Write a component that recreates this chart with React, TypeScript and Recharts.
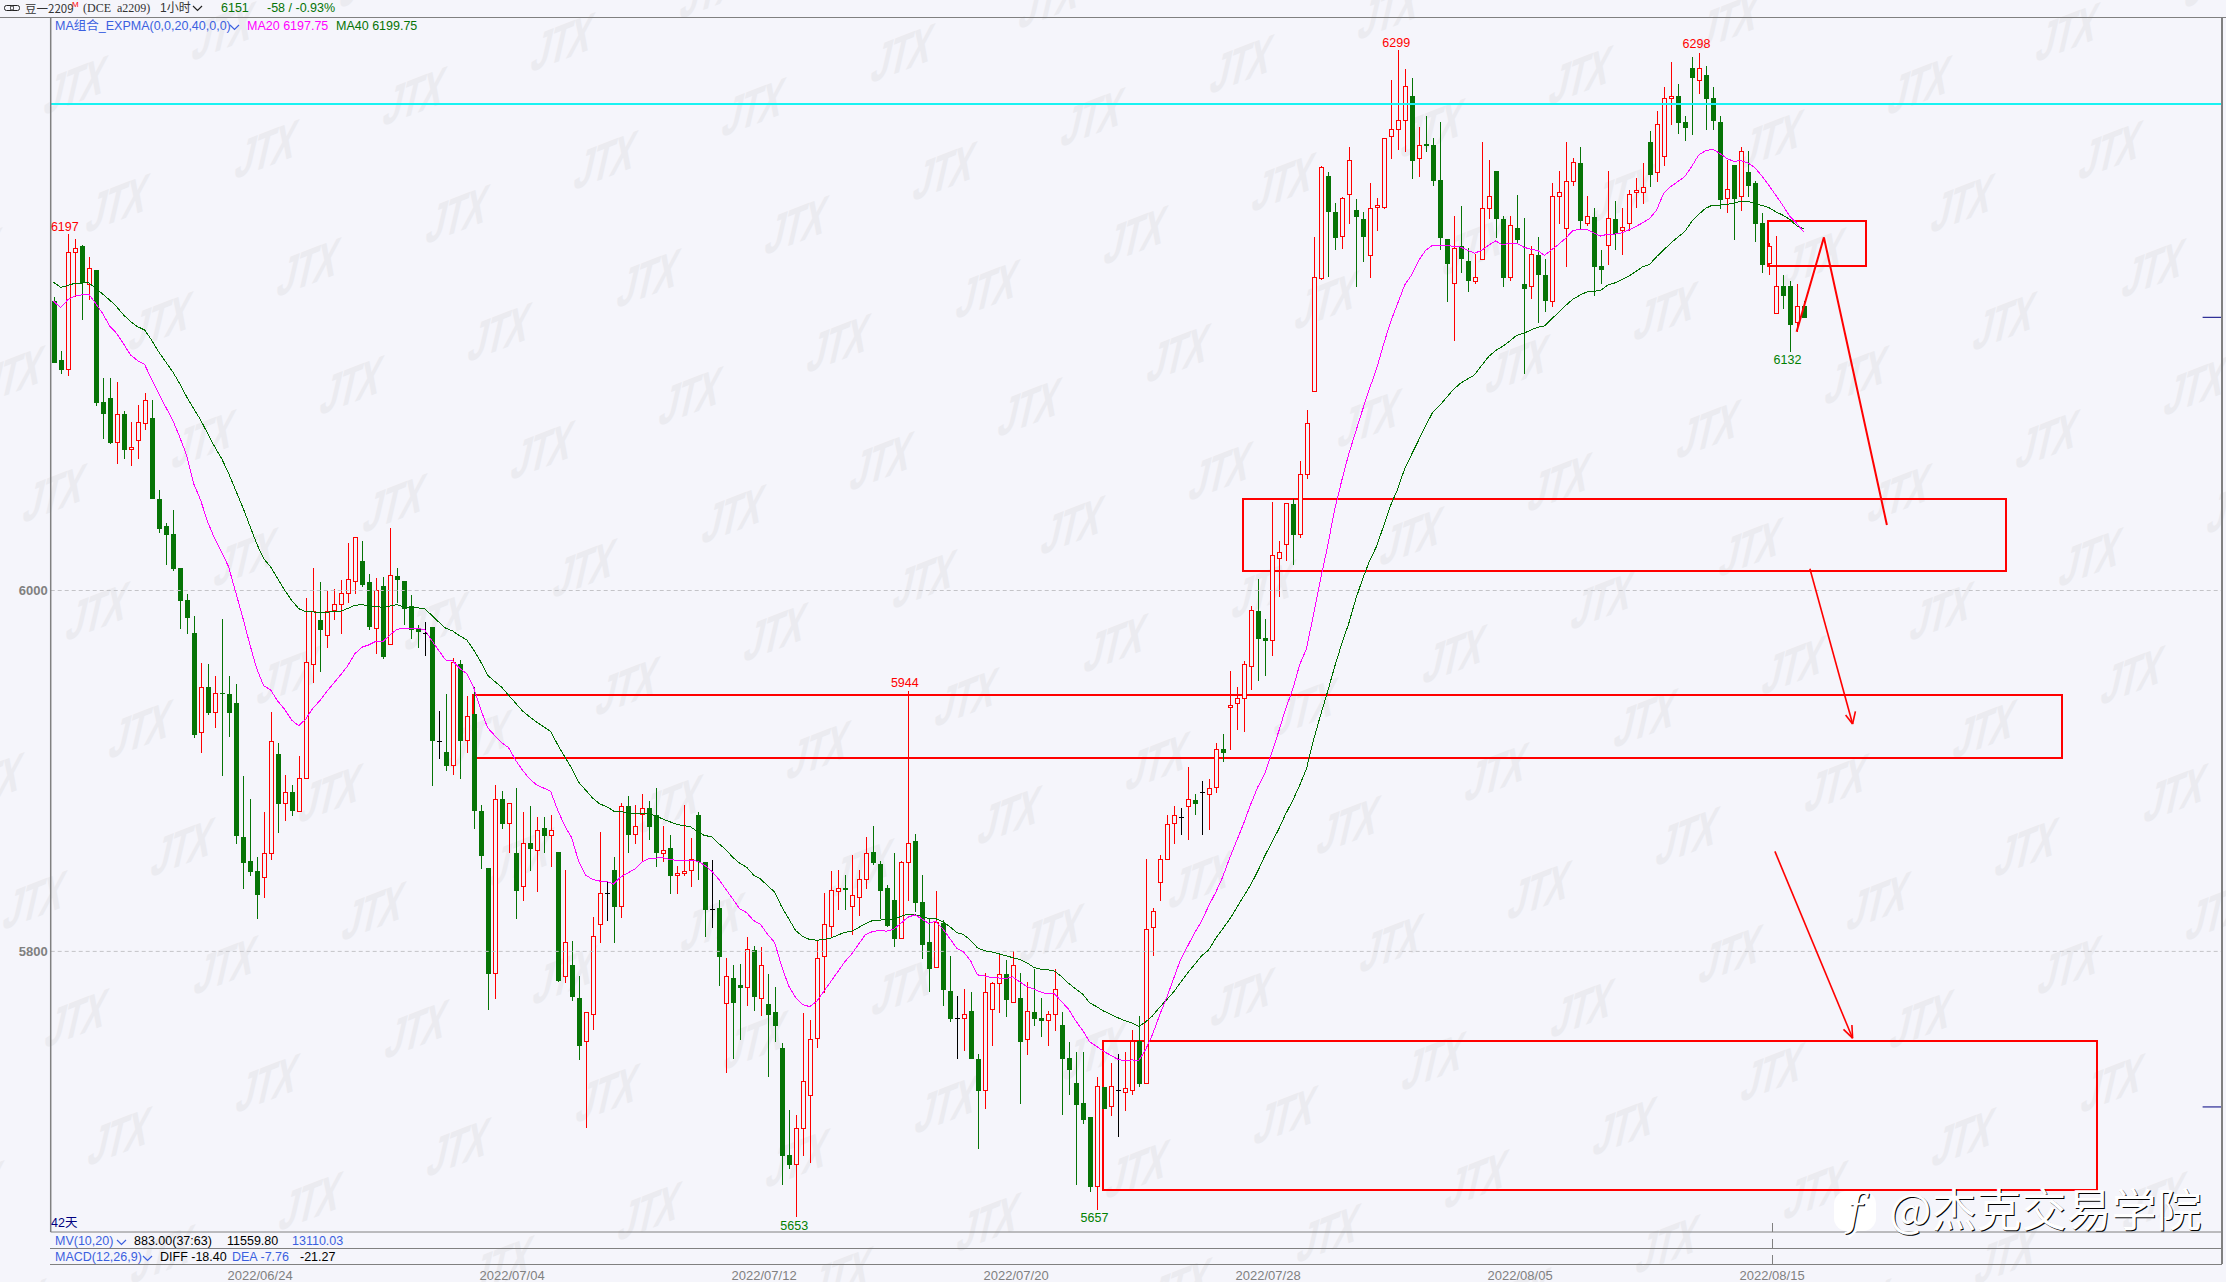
import React from "react";
import { ComposedChart, Bar, Line, XAxis, YAxis, ReferenceLine, ReferenceArea, ReferenceDot } from "recharts";

const opens = [
6160.4,6127.7,6122.4,6187.2,6190.9,6169.7,6177.6,6104.4,6106.7,6081.9,
6097.8,6078,6083,6092.4,6095.6,6050.6,6035.9,6031.2,6012.4,5994.6,
5976.3,5921.2,5946.5,5932.3,5943,5942.6,5937.7,5863.4,5850,5844.6,
5841,5854.4,5909.4,5881.9,5888.3,5877.8,5896,5959,5983.9,5975,
5988.7,5992.2,5998.3,6004.8,6016.3,6004.6,5978.7,6002.4,5969.9,6008.3,
6005.2,5991.3,5978.4,5976,5980,5916.4,5910.5,5903,5959.3,5916.8,
5931.5,5878,5846.2,5787.8,5884.2,5870.8,5854.4,5836,5859.9,5856,
5868.4,5864.4,5855,5786,5792.3,5774.2,5750,5765,5814.9,5832.2,
5845.2,5824.8,5880.7,5864.7,5875.8,5879.6,5875.6,5854.1,5857.2,5841.9,
5843.2,5844.9,5875.6,5849.6,5823.2,5824.1,5771.1,5785.3,5781.4,5779.9,
5801,5773.7,5771.1,5766.3,5746.6,5687.2,5681.7,5701.9,5720,5751.8,
5797.2,5813.8,5833.1,5834.9,5824.8,5829.8,5839.7,5855,5848.4,5834.9,
5828.7,5807,5849.3,5861.2,5827.3,5805.2,5791,5815.6,5778.1,5763,
5762.8,5766.9,5740.3,5722.7,5767.7,5782.1,5787.4,5771.5,5774.1,5751.2,
5766.4,5763,5761.6,5765,5759.2,5741,5727,5716,5708.1,5669.7,
5725.1,5713.8,5722.7,5721.7,5722.7,5750.3,5726.8,5813.3,5838.3,5851,
5871,5874.2,5880.3,5884.1,5888.2,5887.1,5890.7,5911.9,5935.2,5937.4,
5940.1,5957.7,5988.5,5973.6,5972.4,6017.5,6025.6,6048.2,6031,6064.5,
6110.4,6173,6229.6,6209.5,6196.1,6219.4,6210.6,6205.9,6185.5,6212.2,
6212,6251.6,6255.4,6260.6,6274,6239.3,6247.7,6246.8,6227.6,6194.8,
6170.1,6190.7,6182.6,6171.3,6183.5,6211.8,6232.3,6205.9,6173.5,6200.7,
6170.1,6168.5,6186.2,6175.1,6160.2,6218.3,6200.4,6226.9,6236.9,6203.6,
6207.2,6179.6,6191.2,6205.6,6199.5,6203.4,6220.6,6220.6,6248.5,6231.5,
6240.4,6272.5,6274,6259.4,6289.5,6282.7,6285.7,6272.9,6259.6,6217.1,
6235.8,6218.2,6231.9,6225.8,6203.6,6181.1,6153.4,6168.7,6168.7,6148.4,
6157.7];
const highs = [
6162.5,6132.7,6197.6,6194.8,6191.5,6184.9,6177.6,6117.7,6117.7,6115.5,
6099.4,6093.3,6102.8,6109.4,6105.5,6055.6,6037.2,6044.5,6012.4,5998.3,
5986,5960,5959,5952.5,5984,5952.5,5948,5897,5884.5,5852.3,
5877.3,5932.7,5915.5,5898,5892,5908.3,5996,6012.4,6004.8,5999.6,
6001,6006,6026.4,6029.4,6027.4,6009.4,6007.2,6007.6,6034.4,6012.2,
6005.2,5997.4,5981,5982.3,5980,5933.2,5942.7,5962.4,5961.5,5941.6,
5946.4,5881,5846.2,5892,5889,5882,5890.3,5877,5880.7,5874.5,
5874.7,5875.6,5855,5845,5806,5786.4,5766.3,5818.9,5866,5838.4,
5852.2,5882.2,5886.1,5881,5887.2,5883.3,5890.5,5869.7,5864.4,5847.4,
5881,5863.1,5877,5849.6,5850.4,5828.7,5796.3,5792.3,5793,5807.9,
5802.9,5802.4,5787.5,5780.3,5749.2,5712,5709.3,5765.6,5761.9,5805.7,
5832.4,5844.5,5845,5842.3,5853.3,5845,5863.6,5869.5,5850,5836.8,
5854.4,5850,5944.2,5864.8,5842.1,5817.8,5833.2,5817.3,5797.4,5775.3,
5779.2,5777.5,5743,5788.1,5782.8,5798.2,5795.5,5800.2,5788.1,5782.8,
5790.2,5774.3,5766.9,5790.2,5766.4,5749.9,5744,5744,5708.1,5730.4,
5725.1,5738.2,5743,5744.2,5756.3,5764.1,5851,5824.1,5853.2,5875.6,
5880.5,5879.7,5902.2,5887.1,5894.5,5895.6,5915.5,5920.4,5955.2,5946.5,
5960.9,5991.2,6006.4,5984.2,6049.3,6027.4,6048.2,6050.5,6071.7,6100.2,
6195.9,6235.5,6231.9,6214.5,6218.3,6245.5,6216.7,6210,6225.6,6217.4,
6250.4,6283,6299.3,6288.9,6283.9,6256.8,6262.9,6250.7,6259.7,6194.8,
6207.5,6213.3,6189.6,6186.6,6248.6,6238.4,6232.3,6207.5,6207.5,6219.4,
6206.3,6190.7,6195.9,6183.7,6225.6,6232.6,6248.6,6239.6,6245.7,6218.5,
6212,6188.7,6232.6,6215.8,6212,6222.2,6228.5,6236.9,6254.6,6265.7,
6279.2,6292.9,6280.7,6262.9,6295.5,6298,6290.6,6279,6262.9,6238.6,
6235.8,6245.6,6243.5,6227.1,6209,6192.4,6196.4,6174.8,6171.5,6169.8,
6160.6];
const lows = [
6126.2,6120,6119,6162.8,6149.9,6161,6102.4,6083.9,6081.3,6070,
6072.8,6068.9,6072.8,6088.9,6050.6,6031.6,6014,6010.9,5978.7,5975.8,
5918,5910,5931,5924,5897,5918.8,5859.7,5834.8,5842,5818,
5829.8,5850.8,5865.8,5872,5875,5877,5896,5948.8,5954.9,5968.2,
5983.5,5975.8,5992.8,5998,6002,5978,5964.7,5962,5969.9,5992.8,
5980.8,5973,5968,5963.6,5891.9,5906.4,5900,5897.7,5895.8,5910.2,
5868,5845.6,5767.8,5773.7,5868,5854.8,5818.2,5828,5844.5,5832.9,
5854.4,5846.7,5783,5782.7,5772.4,5740,5701.9,5756.6,5804.6,5816.9,
5804.6,5818.4,5854.4,5859.4,5849.6,5861.8,5846.7,5849.6,5831.8,5831.8,
5841.9,5835.7,5839.5,5807.9,5813,5780.7,5732.5,5740.4,5751,5769.8,
5766.7,5764,5730.5,5749.8,5670.7,5679.5,5652.8,5686.7,5683,5746.6,
5777.2,5807.3,5823,5823,5809,5819.7,5834.6,5847.8,5818.2,5813.4,
5802.4,5807,5828,5821.6,5795.9,5777.5,5791,5770,5761.1,5740.3,
5744.8,5740.3,5690.5,5712.8,5747.8,5765.8,5763.7,5771.5,5715.5,5742.5,
5758.8,5752.4,5747.8,5755.8,5709.6,5720.6,5670.8,5704.3,5666.8,5656.6,
5712.6,5709,5696.9,5711.7,5720.2,5724.9,5726.8,5797.6,5827.9,5851,
5859.5,5864.4,5861.7,5875.6,5864.4,5867,5887.7,5905.1,5911.7,5922.7,
5921.7,5945,5949.9,5952.8,5963.9,5996.2,6016.1,6014.3,6029.2,6061.8,
6110.4,6172.2,6173.5,6188.5,6189.1,6203.2,6168.1,6182.1,6173.3,6199.3,
6211.5,6239.1,6244.3,6243,6228,6229.2,6243.2,6224.4,6188.5,6160,
6138.2,6176,6165.2,6169.9,6183.5,6205.9,6195.2,6168.1,6171.3,6192.5,
6119.9,6161.3,6148.2,6154.5,6157.2,6203.2,6179.4,6224.4,6200.4,6202,
6163.1,6169.9,6180.3,6188.9,6186,6199.5,6212,6214.2,6223.8,6226.5,
6235.2,6258,6253,6249.1,6252.4,6275.1,6255.2,6255.2,6211.4,6209.4,
6194.2,6210.3,6218.2,6193.3,6176.1,6174.8,6153.4,6155.8,6132.3,6143.4,
6151];
const closes = [
6126.2,6122.2,6187.4,6189.6,6170.2,6178.6,6103.9,6098,6081.7,6097.6,
6078,6079.3,6093.2,6105.4,6050.6,6034.2,6030.9,6011.8,5994.3,5984.8,
5920,5946.3,5932,5943,5942.5,5932.3,5864.1,5849,5844,5831,
5854.4,5916.4,5881.9,5888,5877.8,5896,5960.2,5988.4,5978.2,5988.4,
5992.2,5998.3,6006,6029.4,6003,5979.7,6000,5963,6008.3,6005.7,
5989.8,5978,5976.9,5976,5916.8,5916.4,5903,5960.2,5916.8,5930.2,
5878,5852.8,5787.5,5884.2,5870.6,5882,5833.5,5859.9,5856.8,5867,
5864.2,5867,5783.8,5805,5775,5747.6,5766.3,5808.3,5832.2,5832.2,
5824.8,5880.4,5864.4,5869.3,5879.3,5868.8,5854.6,5855.9,5841.9,5843.2,
5844.3,5851,5849.6,5823,5823.2,5797,5786.2,5771.5,5779.6,5801,
5775,5792.1,5765,5758.6,5686.7,5681.7,5701.9,5727.9,5751.1,5796.1,
5814.9,5833.8,5834.9,5833.8,5831.1,5839.9,5854.4,5849.1,5833.5,5813.8,
5807,5849.3,5859.9,5827,5803.8,5790,5816,5778.7,5762.6,5763,
5765.2,5740.3,5722.7,5777.2,5782.3,5787,5772.8,5792.3,5749.9,5766.9,
5762.6,5761.6,5765.2,5779,5740.3,5734,5714.9,5706.6,5669.7,5725.1,
5712.6,5725.1,5722.7,5724,5750.3,5726.6,5812.2,5822.2,5851,5870.4,
5875.4,5874.2,5884.1,5881.8,5888.2,5890.3,5911.9,5910,5936.3,5940.3,
5959,5989,5973.3,5972.2,6019.3,6021.1,6048.2,6031,6064.5,6092.6,
6173.5,6234.4,6209.5,6195.2,6217.4,6238.4,6207,6196.1,6211.8,6213.3,
6250.4,6255.4,6260.6,6279.4,6238.2,6246.6,6246.6,6227.1,6195.3,6181.2,
6189.8,6183.5,6171.3,6173.5,6211.8,6218.3,6206.1,6173.3,6202.3,6194.1,
6167.2,6186.2,6175.1,6160.2,6218.3,6220.6,6226.7,6237.3,6204.5,6207.2,
6179.4,6177.4,6205.9,6197.5,6201.1,6219.4,6221.7,6223.3,6230.2,6258.3,
6272.7,6273.8,6259.2,6256.5,6284,6289.4,6272.4,6260.4,6216.6,6222.3,
6216.9,6243.5,6224.3,6203.3,6180.4,6190.9,6168.5,6163.4,6147.3,6157.5,
6151];
const ma20 = [
6160.4,6156.7,6161,6163.2,6163.8,6164.3,6159.1,6153.6,6146.6,6142.5,
6136.6,6130.5,6127.4,6125.3,6117,6109.2,6101.8,6094.5,6085.2,6075,
6059.3,6050.1,6038.1,6028.8,6021.4,6013.1,5999.3,5985.4,5970.6,5956.9,
5947.3,5944.9,5938.8,5934.2,5928.2,5925.1,5928.6,5934.5,5938.8,5943.9,
5948.6,5953.2,5958.2,5964.8,5968.5,5969.8,5971.8,5971.5,5975.2,5978.4,
5979.1,5979.1,5978.9,5978.4,5972.4,5966.9,5961.5,5961,5956.9,5954,
5946.4,5934.3,5924,5919.7,5915.7,5912.9,5905.9,5900.4,5895.6,5892.3,
5890.5,5888.8,5878.4,5869.7,5863.1,5850,5842.3,5839.9,5839,5838.8,
5837.3,5841.2,5843.4,5845.6,5849.3,5851.5,5851.7,5851.9,5851,5850.4,
5850.4,5850.4,5850,5847.8,5844.5,5840.1,5834.6,5829.2,5823.7,5821.5,
5817.1,5814.9,5809.4,5805,5791.9,5780.9,5774.4,5770.5,5769.4,5772.2,
5777.7,5783.1,5788.6,5794.1,5798.5,5804,5809.4,5811,5811.6,5811.2,
5812.3,5815.4,5818.9,5820.2,5818.2,5815.4,5816.7,5812.7,5807.3,5801.8,
5799.7,5794.8,5787,5786.4,5785.5,5785.3,5784.9,5785.9,5783.2,5780.6,
5779.2,5777.5,5776.4,5776.4,5772.2,5767.9,5761.6,5756.3,5749.9,5747.4,
5744.6,5742.5,5740.3,5739.3,5739.9,5739.3,5745.6,5754.1,5764.7,5774.3,
5784.9,5795.5,5802.9,5810.3,5816.7,5825.2,5832.6,5841.1,5851.7,5861.2,
5870.8,5881.4,5890.9,5898.3,5910,5921.7,5934.4,5945,5958.8,5968,
5987.1,6006.4,6024.5,6044.8,6060.6,6075.4,6087.8,6100.2,6112,6122.9,
6136.4,6148.9,6159,6169.2,6174.9,6182.8,6188.5,6191.4,6191.4,6191.2,
6190.7,6190.3,6188.5,6186.9,6188.5,6191.4,6193.7,6191.6,6192.5,6192.5,
6190.3,6189.1,6188.5,6185.7,6188.9,6191.8,6195.2,6199.3,6200.2,6200.2,
6198.2,6196.4,6197.5,6197.5,6198.2,6199.8,6201.6,6203.8,6206.2,6210.8,
6220.1,6223.8,6226.5,6229.3,6234.9,6241.3,6243.7,6244.6,6242.3,6239.5,
6237.8,6238.2,6237.1,6234.5,6229.9,6224.7,6219.2,6213.6,6207.5,6203.5,
6198.8];
const ma40 = [
6170.8,6168,6169,6170.2,6170.4,6170.6,6167.5,6164.3,6161,6157.3,
6152.7,6149,6146.2,6144.4,6138.8,6132.3,6126.8,6121.3,6114.8,6107.4,
6100.9,6094.5,6087.1,6079.7,6073.2,6064.9,6055.6,6046.4,6036.2,6026.1,
6017.7,6013.1,6006.7,6000.2,5994.6,5990,5988.2,5988.2,5987.6,5988,
5988.2,5988.5,5990,5991.7,5992.2,5991.5,5991.3,5990.6,5991.3,5992.2,
5990.9,5990.4,5990.4,5990,5986.3,5982.6,5979.1,5977.6,5974.9,5972.7,
5967.2,5960.6,5953,5949.7,5946.4,5942,5937.6,5933.2,5930,5927.1,
5924.5,5921.9,5914.6,5908,5901.5,5893.8,5889.4,5885,5881.8,5880.2,
5877.8,5877.6,5876.7,5876.3,5876.3,5876.3,5875.2,5873.4,5871.9,5870.4,
5869.7,5869,5866.4,5864.2,5863.6,5859.8,5856.6,5852.2,5848.9,5846.7,
5842.3,5840.1,5836.4,5832.9,5824.8,5818.2,5811.6,5808.3,5806.6,5806.2,
5806.6,5807.3,5809,5810.5,5811.2,5813.2,5815.4,5817.1,5817.3,5817.8,
5817.8,5819.3,5820.6,5820.4,5819.3,5818.2,5818.2,5816.4,5813.8,5810.5,
5809.3,5806.1,5801.9,5800.4,5799.7,5798.7,5797.6,5796.6,5795.5,5793.8,
5791.2,5790.2,5789.8,5789.1,5786,5782.3,5779.2,5776.4,5771.5,5769.4,
5766.9,5765.2,5763.3,5761.6,5760.5,5758.4,5760.9,5764.3,5769,5773.2,
5777.5,5782.8,5788.1,5792.7,5797.6,5800.8,5807.1,5812.4,5817.8,5824.1,
5830.5,5836.8,5844.3,5852.7,5860.2,5867.6,5876.1,5883.5,5892,5901.5,
5917.4,5931,5944,5957.7,5970.2,5981.5,5995,6006.4,6016.5,6024.5,
6035.8,6047.1,6056.1,6067.4,6075.4,6083.3,6091.2,6098.7,6102.5,6107,
6111.5,6114.9,6117.2,6119.5,6124.7,6129.6,6133,6135.3,6138.2,6141.4,
6142.5,6144.3,6145.9,6146.6,6150.5,6154.1,6157.9,6161.3,6163.6,6165.4,
6165.8,6166.3,6169.2,6170.4,6172.2,6174.2,6176.7,6179.4,6180.7,6185,
6188.7,6192.4,6195.7,6198.8,6204.4,6208.4,6211.8,6213.6,6213.6,6214,
6214.5,6215.8,6215.8,6214.5,6213.4,6212.3,6209.9,6208.1,6205.7,6202.2,
6200.3];

const dateTickValues = [29.5, 65.5, 101.5, 137.5, 173.5, 209.5, 245.5];
const dateTickLabels = ["2022/06/24", "2022/07/04", "2022/07/12", "2022/07/20", "2022/07/28", "2022/08/05", "2022/08/15"];
const priceTicks = [5800, 6000];
const resistanceLevel = 6269.6;
const axisMarkers = [6151.4, 5713.8];
const zones = [
  { x1: 244.87, x2: 258.9, y1: 6179.8, y2: 6204.8 },
  { x1: 169.87, x2: 278.9, y1: 6010.9, y2: 6050.5 },
  { x1: 59.94, x2: 286.9, y1: 5907.4, y2: 5942.3 },
  { x1: 149.9, x2: 291.9, y1: 5667.8, y2: 5750.3 },
];
const arrowSegments = [
  [[249.0, 6143.4], [252.9, 6195.7]],
  [[252.9, 6195.7], [261.9, 6036.3]],
  [[250.9, 6012.1], [257, 5926]],
  [[256, 5931], [257, 5926]],
  [[257.4, 5933], [257, 5926]],
  [[245.9, 5855.4], [257, 5751.9]],
  [[255.7, 5756.8], [257, 5751.9]],
  [[256.9, 5759.2], [257, 5751.9]],
];
const extremeLabels = [
  { i: 1.6, p: 6201.5, text: "6197", color: "#ff0000" },
  { i: 191.8, p: 6303.6, text: "6299", color: "#ff0000" },
  { i: 234.7, p: 6303.2, text: "6298", color: "#ff0000" },
  { i: 121.6, p: 5949.2, text: "5944", color: "#ff0000" },
  { i: 105.8, p: 5648.2, text: "5653", color: "#008000" },
  { i: 148.7, p: 5652.6, text: "5657", color: "#008000" },
  { i: 247.7, p: 6128.1, text: "6132", color: "#008000" },
];

const BG = "#f5f5fb";
const UP = "#ff0000";
const DOWN = "#067406";
const SANS = "'Liberation Sans', Arial, sans-serif";
const CJK = "'Liberation Sans','Noto Sans CJK SC',sans-serif";

const rows = opens.map((o, i) => ({
  i, o, h: highs[i], l: lows[i], c: closes[i],
  range: [lows[i], highs[i]],
  ma20: ma20[i], ma40: ma40[i],
}));

const Candle = (props: any) => {
  const { x, y, width, height, payload } = props;
  if (payload == null || !isFinite(y)) return null;
  const { o, h, l, c } = payload;
  const cx = Math.round(x + width / 2);
  const k = h === l ? 0 : height / (h - l);
  const yOf = (v: number) => y + (h - v) * k;
  const top = yOf(Math.max(o, c));
  const bot = yOf(Math.min(o, c));
  const color = c > o ? UP : c < o ? DOWN : "#000000";
  const crisp = { shapeRendering: "crispEdges" as const };
  if (c === o) {
    return (
      <g {...crisp}>
        <line x1={cx + 0.5} x2={cx + 0.5} y1={y} y2={y + height} stroke={color} strokeWidth={1} />
        <line x1={cx - 2} x2={cx + 3} y1={top} y2={top} stroke={color} strokeWidth={1} />
      </g>
    );
  }
  return (
    <g {...crisp}>
      <line x1={cx + 0.5} x2={cx + 0.5} y1={y} y2={y + height} stroke={color} strokeWidth={1} />
      {c > o ? (
        <rect x={cx - 1.5} y={top} width={4} height={Math.max(bot - top, 1)} fill={BG} stroke={color} strokeWidth={1} />
      ) : (
        <rect x={cx - 2} y={top} width={5} height={Math.max(bot - top, 1)} fill={color} />
      )}
    </g>
  );
};

const DateTick = (props: any) => {
  const { x, y, index } = props;
  const y0 = y - 8;
  const isLast = index === dateTickLabels.length - 1;
  return (
    <g>
      {isLast && (
        <g stroke="#808080" strokeWidth={1} shapeRendering="crispEdges">
          <line x1={x} x2={x} y1={y0 - 9} y2={y0} />
          <line x1={x} x2={x} y1={y0 + 7} y2={y0 + 16} />
          <line x1={x} x2={x} y1={y0 + 23} y2={y0 + 32} />
        </g>
      )}
      <text x={x} y={y0 + 47.5} textAnchor="middle" fontFamily={SANS} fontSize={13} fill="#808080">
        {dateTickLabels[index]}
      </text>
    </g>
  );
};

const Txt = ({ x, y, c, s = 12.5, w, f, children }: any) => (
  <div style={{ position: "absolute", left: x, top: y, color: c, fontSize: s, fontFamily: f || CJK, lineHeight: "16px", whiteSpace: "pre", width: w }}>
    {children}
  </div>
);

const Chev = ({ x, y, c = "#3b5fe0" }: any) => (
  <svg style={{ position: "absolute", left: x, top: y }} width={11} height={7}>
    <polyline points="1,1 5.5,5.5 10,1" fill="none" stroke={c} strokeWidth={1.2} />
  </svg>
);

const HLine = ({ y, x = 50, w = 2172 }: any) => (
  <div style={{ position: "absolute", left: x, top: y, width: w, height: 1, background: "#808080" }} />
);

const Watermarks = () => {
  const marks: React.ReactNode[] = [];
  for (let a = -8; a <= 16; a++) {
    for (let b = -16; b <= 16; b++) {
      const x = 74.8 + a * 190.9 + b * 42.6;
      const y = 86 + a * 64.4 + b * 118;
      if (x < -60 || x > 2290 || y < -50 || y > 1330) continue;
      marks.push(
        <div key={`${a}_${b}`} style={{
          position: "absolute", left: x - 60, top: y - 35, width: 120, height: 70, lineHeight: "70px",
          textAlign: "center", color: "#ebebf0", fontFamily: SANS, fontWeight: 700,
          fontSize: 51, letterSpacing: -2, transform: "skewY(-21deg) skewX(-14deg) scaleX(.66)",
        }}>JTX</div>
      );
    }
  }
  return <>{marks}</>;
};

export default function App() {
  const BLUE = "#3b5fe0";
  const GREEN = "#067406";
  return (
    <div style={{ position: "absolute", left: 0, top: 0, width: 2226, height: 1282, background: BG, overflow: "hidden" }}>
      <Watermarks />
      <div style={{ position: "absolute", left: 0, top: 0 }}>
        <ComposedChart width={2226} height={1282} data={rows} margin={{ top: 17.5, right: 4, bottom: 20, left: 0 }}>
          <XAxis dataKey="i" type="number" domain={[-0.414, 309.77]} allowDataOverflow ticks={dateTickValues} interval={0}
            height={30} axisLine={{ stroke: "#808080" }} tickLine={false} tick={<DateTick />} />
          <YAxis type="number" domain={[5644.5, 6317.54]} allowDataOverflow ticks={priceTicks} interval={0} width={50.7}
            axisLine={{ stroke: "#808080", strokeWidth: 1.5 }} tickLine={false} tickMargin={-3}
            tick={{ fill: "#808080", fontSize: 13, fontWeight: 700, fontFamily: SANS }} />
          {priceTicks.map((p) => (
            <ReferenceLine key={p} y={p} stroke="#c4c4c8" strokeDasharray="4 3" strokeWidth={1} />
          ))}
          <ReferenceLine y={resistanceLevel} stroke="#19f2f2" strokeWidth={2} shapeRendering="crispEdges" />
          <Bar dataKey="range" barSize={5} shape={<Candle />} isAnimationActive={false} />
          <Line dataKey="ma40" stroke="#007000" strokeWidth={1} dot={false} isAnimationActive={false} shapeRendering="crispEdges" />
          <Line dataKey="ma20" stroke="#ff00ff" strokeWidth={1} dot={false} isAnimationActive={false} shapeRendering="crispEdges" />
          {zones.map((z, n) => (
            <ReferenceArea key={n} x1={z.x1} x2={z.x2} y1={z.y1} y2={z.y2} fill="none" fillOpacity={0} stroke="#ff0000" strokeWidth={2} ifOverflow="visible" shapeRendering="crispEdges" />
          ))}
          {arrowSegments.map((s, n) => (
            <ReferenceLine key={n} segment={[{ x: s[0][0], y: s[0][1] }, { x: s[1][0], y: s[1][1] }]} stroke="#ff0000" strokeWidth={n < 2 ? 2 : 1.6} ifOverflow="visible" />
          ))}
          {axisMarkers.map((p) => (
            <ReferenceLine key={p} segment={[{ x: 307, y: p }, { x: 309.77, y: p }]} stroke="#000080" strokeWidth={1} />
          ))}
          {extremeLabels.map((e) => (
            <ReferenceDot key={e.text} x={e.i} y={e.p} r={0} fill="none" stroke="none" ifOverflow="visible"
              label={{ value: e.text, position: "center", fill: e.color, fontSize: 12.5, fontFamily: SANS }} />
          ))}
        </ComposedChart>
      </div>

      <HLine y={17} x={0} w={2226} />
      <HLine y={1248} />
      <HLine y={1264} />
      <div style={{ position: "absolute", left: 2221, top: 17, width: 2, height: 1247, background: "#808080" }} />

      <svg style={{ position: "absolute", left: 4, top: 4 }} width={17} height={9}>
        <rect x={0.5} y={1.5} width={9} height={5} rx={2} fill="none" stroke="#222" />
        <rect x={6.5} y={1.5} width={9} height={5} rx={2} fill="none" stroke="#222" />
      </svg>
      <Txt x={25} y={0} c="#333" s={11.5} f="'Noto Sans CJK SC',sans-serif">豆一2209</Txt>
      <Txt x={72} y={-3} c="#ff0000" s={8}>M</Txt>
      <Txt x={83} y={0} c="#333" s={12} f="'Liberation Serif',serif">(DCE  a2209)</Txt>
      <Txt x={160} y={0} c="#333" s={12}>1小时</Txt>
      <Chev x={192} y={5} c="#222" />
      <Txt x={221} y={0} c={GREEN}>6151</Txt>
      <Txt x={267} y={0} c={GREEN}>-58 / -0.93%</Txt>

      <Txt x={55} y={18} c={BLUE}>MA组合_EXPMA(0,0,20,40,0,0)</Txt>
      <Chev x={229} y={24} />
      <Txt x={247} y={18} c="#ff00ff">MA20 6197.75</Txt>
      <Txt x={336} y={18} c={GREEN}>MA40 6199.75</Txt>

      <Txt x={51} y={1215} c="#000080" s={12.5}>42天</Txt>
      <Txt x={55} y={1233} c={BLUE}>MV(10,20)</Txt>
      <Chev x={116} y={1239} />
      <Txt x={134} y={1233} c="#000">883.00(37:63)</Txt>
      <Txt x={227} y={1233} c="#000">11559.80</Txt>
      <Txt x={292} y={1233} c={BLUE}>13110.03</Txt>
      <Txt x={55} y={1249} c={BLUE}>MACD(12,26,9)</Txt>
      <Chev x={142} y={1255} />
      <Txt x={160} y={1249} c="#000">DIFF -18.40</Txt>
      <Txt x={232} y={1249} c={BLUE}>DEA -7.76</Txt>
      <Txt x={300} y={1249} c="#000">-21.27</Txt>

      <div style={{ position: "absolute", left: 1834, top: 1191, width: 42, height: 40, borderRadius: 13, background: "#fff" }} />
      <svg style={{ position: "absolute", left: 1846, top: 1226 }} width={16} height={14}>
        <polygon points="0,0 16,0 3,13" fill="#fff" />
      </svg>
      <div style={{ position: "absolute", left: 1834, top: 1188, width: 42, textAlign: "center", fontFamily: "'DejaVu Serif',serif", fontStyle: "italic", fontSize: 42, lineHeight: "46px", color: "#fff", textShadow: "1px 1px 0 #000" }}>f</div>
      <div style={{ position: "absolute", left: 1889, top: 1181, fontFamily: "'Noto Sans CJK SC',sans-serif", fontSize: 45, lineHeight: "54px", color: "#fff", whiteSpace: "nowrap", textShadow: "1px 1px 0 #000" }}>@杰克交易学院</div>
    </div>
  );
}
